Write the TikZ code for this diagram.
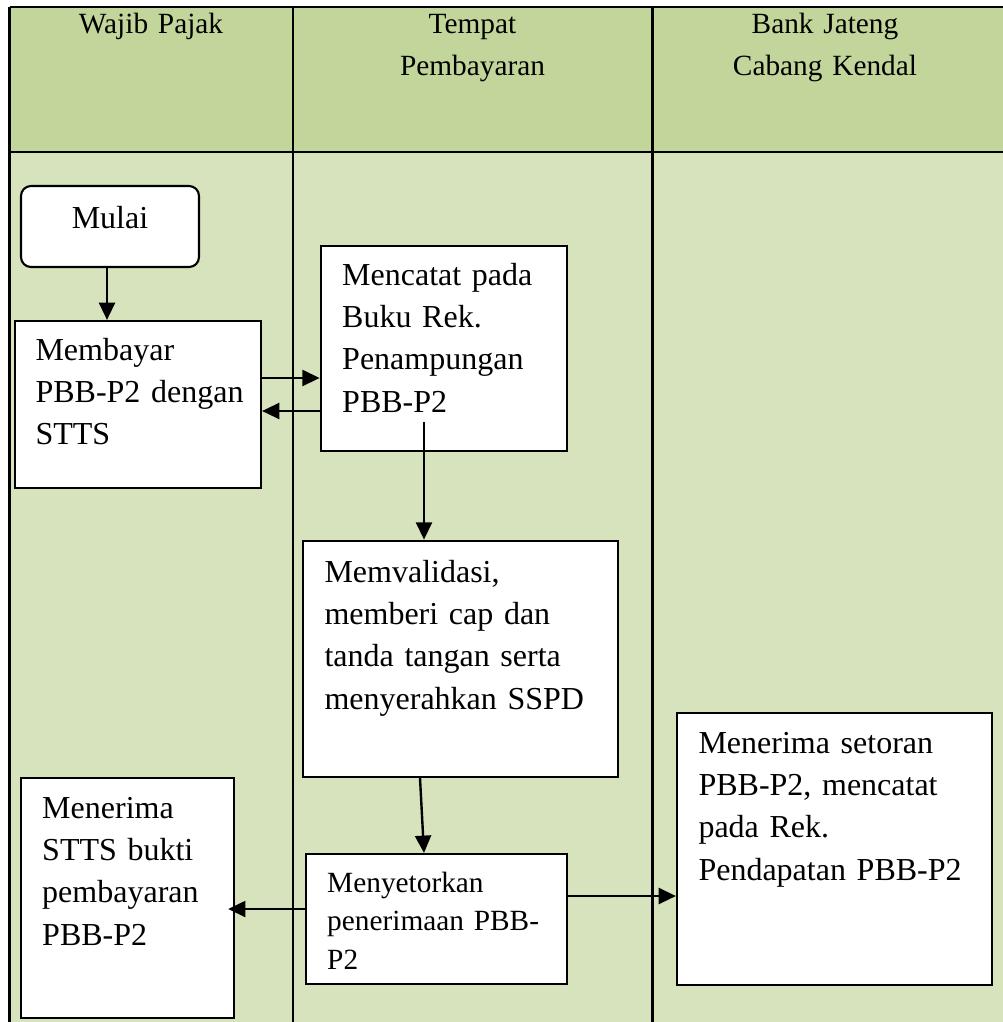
\documentclass[tikz,border=0pt]{standalone}
\usepackage{fontspec}
\setmainfont{Liberation Serif}
\usetikzlibrary{arrows.meta,fit,calc}
\definecolor{hdr}{HTML}{C2D69B}
\definecolor{bdy}{HTML}{D6E3BC}
\begin{document}
\begin{tikzpicture}[x=0.375pt,y=-0.375pt,
  gridline/.style={line width=0.85pt},
  box/.style={draw, line width=0.8pt, fill=white, inner sep=0pt},
  rbox/.style={box, rounded corners=3.75pt},
  txt/.style={inner sep=0pt, align=left, text width=130pt, anchor=base west, font=\fontsize{12}{15.9}\selectfont},
  stxt/.style={txt, font=\fontsize{11}{14.6}\selectfont},
  htxt/.style={inner sep=0pt, align=center, text width=120pt, anchor=base, font=\fontsize{11}{15.75}\selectfont},
  ctxt/.style={inner sep=0pt, anchor=base, font=\fontsize{12}{15.9}\selectfont},
  arr/.style={line width=0.9pt, -{Triangle[length=6.5pt,width=6pt]}}]
\useasboundingbox (0,0) rectangle (1003,1022);
% table background
\fill[hdr] (9.6,6.7) rectangle (1003,151.7);
\fill[bdy] (9.6,151.7) rectangle (1003,1022);
\draw[gridline] (9.6,6.7) -- (1003,6.7);
\draw[gridline] (9.6,151.7) -- (1003,151.7);
\draw[gridline] (9.6,6.7) -- (9.6,1022);
\draw[gridline] (292.8,6.7) -- (292.8,1022);
\draw[gridline] (652.5,6.7) -- (652.5,1022);
% header texts
\node[htxt] (h1) at (151,33) {Wajib Pajak};
\node[htxt] (h2) at (472.5,33) {Tempat\\Pembayaran};
\node[htxt] (h3) at (825,33) {Bank Jateng\\Cabang Kendal};
% boxes
\node[rbox, fit={(21,186) (199,267)}] (mulai) {};
\node[ctxt] (tmulai) at (110,228) {Mulai};
\node[box, fit={(15,321) (261,488)}] (b1) {};
\node[txt] (t1) at (35,360) {Membayar\\PBB-P2 dengan\\STTS};
\node[box, fit={(320.7,246) (566.7,451)}] (b2) {};
\node[txt] (t2) at (341.7,285) {Mencatat pada\\Buku Rek.\\Penampungan\\PBB-P2};
\node[box, fit={(302.7,540.7) (618,777)}] (b3) {};
\node[txt] (t3) at (324,582) {Memvalidasi,\\memberi cap dan\\tanda tangan serta\\menyerahkan SSPD};
\node[box, fit={(306,854) (566.7,984)}] (b4) {};
\node[stxt] (t4) at (326.7,892) {Menyetorkan\\penerimaan PBB-\\P2};
\node[box, fit={(21,778) (234,1018)}] (b5) {};
\node[txt] (t5) at (41.7,818) {Menerima\\STTS bukti\\pembayaran\\PBB-P2};
\node[box, fit={(677,712.7) (991.7,984.7)}] (b6) {};
\node[txt] (t6) at (698,753) {Menerima setoran\\PBB-P2, mencatat\\pada Rek.\\Pendapatan PBB-P2};
% connectors
\coordinate (a0) at (107,0);
\draw[arr] (mulai.south -| a0) -- (b1.north -| a0);
\coordinate (r1) at (0,378);
\draw[arr] (b1.east |- r1) -- (b2.west |- r1);
\coordinate (r2) at (0,411);
\draw[arr] (b2.west |- r2) -- (b1.east |- r2);
\coordinate (s3) at (424,422);
\draw[arr] (s3) -- (b3.north -| s3);
\coordinate (s4) at (420,0);
\coordinate (e4) at (424,0);
\draw[arr] (b3.south -| s4) -- (b4.north -| e4);
\coordinate (r5) at (0,909);
\draw[arr, shorten >=-2.6pt] (b4.west |- r5) -- (b5.east |- r5);
\coordinate (r6) at (0,896);
\draw[arr] (b4.east |- r6) -- (b6.west |- r6);
\end{tikzpicture}
\end{document}
